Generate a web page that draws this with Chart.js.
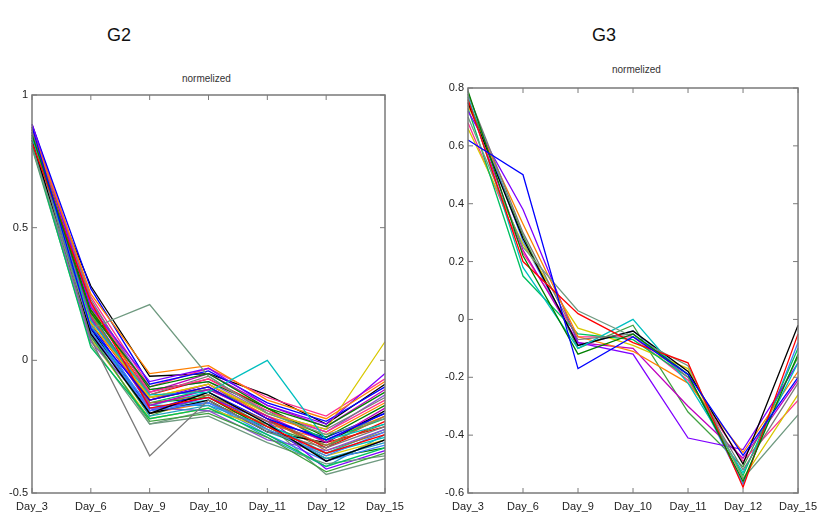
<!DOCTYPE html>
<html>
<head>
<meta charset="utf-8">
<script src="https://cdn.jsdelivr.net/npm/chart.js@4"></script>
<style>
  body { margin: 0; background: #fff; width: 824px; height: 519px; position: relative; overflow: hidden; font-family: Arial, "Liberation Sans", sans-serif; }
  .panel { position: absolute; top: 0; width: 412px; height: 519px; }
  .big { position: absolute; font-size: 18px; color: #111; }
  .small { position: absolute; font-size: 10px; color: #333; }
</style>
</head>
<body>
<div class="big" style="left:107px;top:25px">G2</div>
<div class="big" style="left:592px;top:25px">G3</div>
<div class="small" style="left:182px;top:73px">normelized</div>
<div class="small" style="left:612px;top:64px">normelized</div>
<div class="panel" style="left:0"><canvas id="g2"></canvas></div>
<div class="panel" style="left:412px"><canvas id="g3"></canvas></div>
<script>
const days = ['Day_3', 'Day_6', 'Day_9', 'Day_10', 'Day_11', 'Day_12', 'Day_15'];

// G2 profiles, one row per gene, values at each day
const g2Lines = [
  [0.88, 0.12, -0.15, -0.10, -0.22, -0.30, -0.20],
  [0.85, 0.18, -0.10, -0.05, -0.18, -0.25, -0.12],
  [0.82, 0.22, -0.18, -0.14, -0.25, -0.35, -0.28],
  [0.80, 0.12, 0.21, -0.06, -0.20, -0.28, -0.22],
  [0.86, 0.08, -0.36, -0.15, -0.27, -0.33, -0.25],
  [0.84, 0.15, -0.13, -0.12, 0.00, -0.30, -0.24],
  [0.83, 0.10, -0.20, -0.12, -0.24, -0.38, -0.30],
  [0.87, 0.25, -0.05, -0.02, -0.15, -0.22, -0.08],
  [0.89, 0.20, -0.08, -0.03, -0.17, -0.24, -0.05],
  [0.81, 0.05, -0.22, -0.18, -0.28, -0.40, -0.33],
  [0.85, 0.14, -0.14, -0.09, -0.20, -0.26, 0.07],
  [0.86, 0.16, -0.17, -0.11, -0.21, -0.31, -0.18],
  [0.84, 0.11, -0.19, -0.16, -0.26, -0.36, -0.27],
  [0.88, 0.21, -0.12, -0.07, -0.19, -0.27, -0.15],
  [0.83, 0.09, -0.23, -0.20, -0.29, -0.42, -0.35],
  [0.87, 0.17, -0.16, -0.13, -0.23, -0.32, -0.21],
  [0.85, 0.13, -0.21, -0.17, -0.25, -0.37, -0.31],
  [0.82, 0.07, -0.18, -0.19, -0.30, -0.34, -0.26],
  [0.89, 0.27, -0.09, -0.04, -0.16, -0.23, -0.10],
  [0.86, 0.19, -0.11, -0.08, -0.18, -0.29, -0.17],
  [0.84, 0.14, -0.15, -0.10, -0.22, -0.33, -0.23],
  [0.80, 0.06, -0.24, -0.21, -0.31, -0.39, -0.36],
  [0.87, 0.23, -0.13, -0.06, -0.20, -0.26, -0.14],
  [0.85, 0.16, -0.17, -0.12, -0.24, -0.35, -0.29],
  [0.83, 0.12, -0.20, -0.15, -0.27, -0.31, -0.19],
  [0.88, 0.20, -0.14, -0.09, -0.21, -0.28, -0.16],
  [0.86, 0.10, -0.19, -0.14, -0.23, -0.41, -0.34],
  [0.84, 0.18, -0.16, -0.11, -0.19, -0.30, -0.22],
  [0.81, 0.08, -0.22, -0.18, -0.26, -0.36, -0.30],
  [0.87, 0.15, -0.12, -0.05, -0.17, -0.25, -0.11],
  [0.85, 0.13, -0.18, -0.16, -0.28, -0.38, -0.32],
  [0.89, 0.24, -0.10, -0.03, -0.14, -0.21, -0.07],
  [0.83, 0.11, -0.21, -0.13, -0.25, -0.32, -0.24],
  [0.86, 0.17, -0.15, -0.10, -0.22, -0.34, -0.27],
  [0.82, 0.09, -0.17, -0.17, -0.29, -0.40, -0.28],
  [0.88, 0.22, -0.11, -0.08, -0.20, -0.27, -0.13],
  [0.84, 0.14, -0.19, -0.12, -0.23, -0.29, -0.20],
  [0.85, 0.16, -0.16, -0.14, -0.26, -0.37, -0.33],
  [0.87, 0.19, -0.13, -0.07, -0.18, -0.31, -0.25],
  [0.83, 0.10, -0.24, -0.19, -0.24, -0.43, -0.37],
  [0.86, 0.21, -0.14, -0.11, -0.21, -0.33, -0.19],
  [0.84, 0.12, -0.18, -0.15, -0.27, -0.35, -0.26],
  [0.81, 0.28, -0.06, -0.05, -0.13, -0.24, -0.09],
  [0.88, 0.13, -0.20, -0.16, -0.24, -0.30, -0.21],
  [0.85, 0.18, -0.15, -0.09, -0.22, -0.38, -0.30]
];

// G3 profiles
const g3Lines = [
  [0.62, 0.50, -0.17, -0.06, -0.19, -0.47, -0.20],
  [0.79, 0.22, -0.12, -0.05, -0.19, -0.56, -0.12],
  [0.76, 0.20, 0.02, -0.08, -0.15, -0.58, -0.05],
  [0.70, 0.25, 0.03, -0.06, -0.16, -0.55, -0.33],
  [0.78, 0.30, -0.07, -0.05, -0.20, -0.52, -0.22],
  [0.77, 0.18, -0.10, 0.00, -0.22, -0.53, -0.15],
  [0.75, 0.28, -0.09, -0.04, -0.18, -0.50, -0.02],
  [0.74, 0.33, -0.06, -0.11, -0.22, -0.46, -0.18],
  [0.72, 0.38, -0.08, -0.12, -0.41, -0.45, -0.15],
  [0.73, 0.15, -0.05, -0.07, -0.20, -0.54, -0.10],
  [0.66, 0.26, -0.03, -0.09, -0.17, -0.55, -0.26],
  [0.75, 0.24, -0.08, -0.10, -0.30, -0.48, -0.21],
  [0.78, 0.27, -0.09, -0.04, -0.19, -0.57, -0.08],
  [0.68, 0.23, -0.06, -0.06, -0.21, -0.49, -0.28],
  [0.76, 0.29, -0.10, -0.02, -0.32, -0.51, -0.13]
];

const g2Ticks = { min: -0.5, max: 1, step: 0.5 };
const g3Ticks = { min: -0.6, max: 0.8, step: 0.2 };

const colors = [
  '#0000ff', '#008000', '#ff0000', '#6f9a80', '#7a7a7a', '#00bfbf', '#000000',
  '#ff8000', '#7f00ff', '#00c060', '#d8c800', '#bf00bf', '#3f7fff', '#ff3090',
  '#40a040', '#b07030', '#20a0c0', '#9050d0'
];

const boxPlugin = {
  id: 'box',
  afterDatasetsDraw(chart) {
    const { ctx, chartArea: a, scales } = chart;
    ctx.save();
    ctx.strokeStyle = '#7a7a7a';
    ctx.lineWidth = 1.5;
    ctx.strokeRect(a.left, a.top, a.right - a.left, a.bottom - a.top);
    ctx.lineWidth = 1;
    ctx.beginPath();
    scales.x.ticks.forEach((t, i) => {
      const x = scales.x.getPixelForTick(i);
      ctx.moveTo(x, a.bottom); ctx.lineTo(x, a.bottom - 5);
      ctx.moveTo(x, a.top); ctx.lineTo(x, a.top + 5);
    });
    scales.y.ticks.forEach((t, i) => {
      const y = scales.y.getPixelForTick(i);
      ctx.moveTo(a.left, y); ctx.lineTo(a.left + 5, y);
      ctx.moveTo(a.right, y); ctx.lineTo(a.right - 5, y);
    });
    ctx.stroke();
    ctx.restore();
  }
};

function makeChart(id, lines, range, pad, yWidth) {
  new Chart(document.getElementById(id), {
    type: 'line',
    data: {
      labels: days,
      datasets: lines.map((vals, i) => ({
        data: vals,
        borderColor: colors[i % colors.length],
        borderWidth: 1.3,
        pointRadius: 0,
        tension: 0,
        fill: false
      }))
    },
    options: {
      responsive: true,
      maintainAspectRatio: false,
      animation: false,
      layout: { padding: pad },
      plugins: { legend: { display: false }, tooltip: { enabled: false } },
      scales: {
        x: {
          offset: false,
          grid: { display: false, drawTicks: false },
          border: { display: false },
          ticks: { autoSkip: false, maxRotation: 0, padding: 7, color: '#222', font: { family: 'Arial, sans-serif', size: 11 } },
          afterFit: s => { s.height = 26; }
        },
        y: {
          min: range.min,
          max: range.max,
          grid: { display: false, drawTicks: false },
          border: { display: false },
          ticks: {
            stepSize: range.step, padding: 4, color: '#222', font: { family: 'Arial, sans-serif', size: 11 },
            callback: v => String(Number(v.toFixed(2)))
          },
          afterFit: s => { s.width = yWidth; }
        }
      }
    },
    plugins: [boxPlugin]
  });
}

makeChart('g2', g2Lines, g2Ticks, { top: 95, right: 27, left: 0, bottom: 0 }, 32);
makeChart('g3', g3Lines, g3Ticks, { top: 88, right: 17, left: 0, bottom: 0 }, 56);
</script>
</body>
</html>
